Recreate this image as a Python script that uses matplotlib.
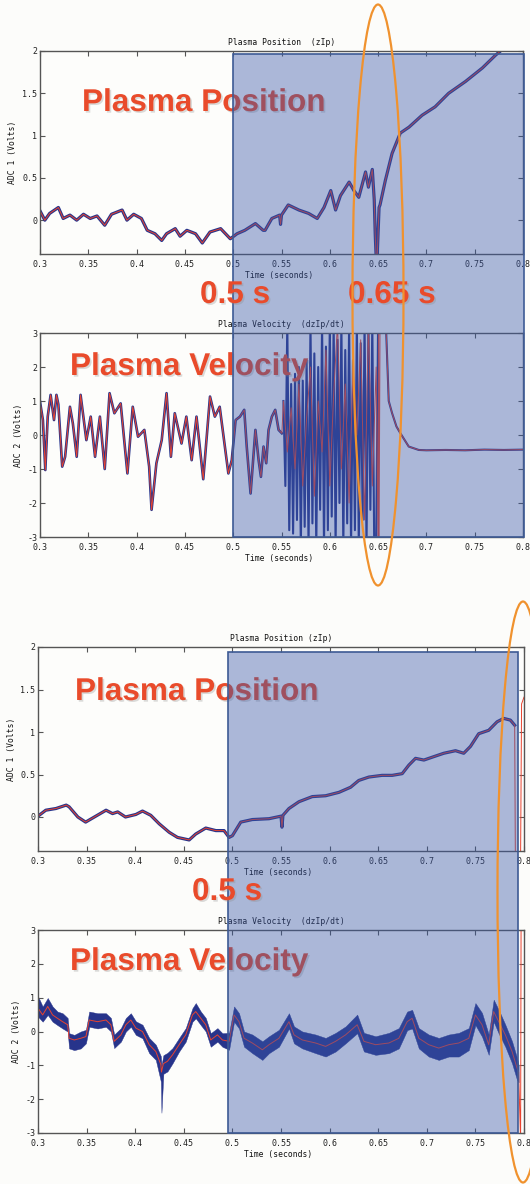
import numpy as np
import matplotlib
matplotlib.use("Agg")
import matplotlib.pyplot as plt
from matplotlib.patches import Rectangle, Ellipse
import matplotlib.patheffects as pe

# ---- shot 1 : position (zIp) ----
pos1_t = [0.300, 0.305, 0.310, 0.319, 0.324, 0.331, 0.338, 0.345, 0.352, 0.359,
          0.367, 0.374, 0.385, 0.390, 0.397, 0.405, 0.411, 0.419, 0.426, 0.431,
          0.440, 0.445, 0.452, 0.461, 0.468, 0.476, 0.487, 0.497, 0.504, 0.512,
          0.523, 0.531, 0.533, 0.540, 0.548, 0.549, 0.550, 0.557, 0.568, 0.578,
          0.587, 0.594, 0.601, 0.606, 0.611, 0.620, 0.625, 0.630, 0.637, 0.640,
          0.644, 0.646, 0.647, 0.648, 0.649, 0.651, 0.652, 0.6575, 0.6645, 0.673,
          0.682, 0.6955, 0.709, 0.723, 0.7405, 0.758, 0.7715, 0.7767, 0.779]
pos1_v = [0.11, 0.00, 0.08, 0.15, 0.02, 0.06, 0.00, 0.07, 0.02, 0.05,
          -0.06, 0.07, 0.12, 0.00, 0.07, 0.02, -0.12, -0.16, -0.24, -0.16,
          -0.10, -0.19, -0.12, -0.16, -0.27, -0.14, -0.10, -0.22, -0.16, -0.12,
          -0.04, -0.12, -0.12, 0.02, 0.06, -0.05, 0.06, 0.18, 0.12, 0.08,
          0.02, 0.15, 0.35, 0.12, 0.29, 0.45, 0.35, 0.27, 0.57, 0.39,
          0.60, 0.24, -0.16, -0.45, -0.45, 0.15, 0.18, 0.47, 0.79, 1.03,
          1.10, 1.24, 1.34, 1.50, 1.64, 1.80, 1.95, 2.00, 2.05]

# ---- shot 1 : velocity (dzIp/dt) ----
vel1_t = [0.300, 0.303, 0.3055, 0.308, 0.311, 0.3145, 0.317, 0.319, 0.323, 0.326,
          0.331, 0.334, 0.338, 0.342, 0.348, 0.3525, 0.357, 0.362, 0.367, 0.372,
          0.377, 0.3835, 0.3905, 0.396, 0.4015, 0.408, 0.413, 0.4155, 0.4205, 0.426,
          0.431, 0.4355, 0.4395, 0.4465, 0.4515, 0.457, 0.462, 0.469, 0.476, 0.481,
          0.486, 0.495, 0.4985, 0.5025, 0.507, 0.5114, 0.514, 0.518, 0.523, 0.5263,
          0.5287, 0.5314, 0.5342, 0.5366, 0.540, 0.5435, 0.547, 0.5504]
vel1_v = [0.98, 0.44, -1.03, 0.54, 1.18, 0.44, 1.18, 0.90, -0.93, -0.64,
          0.83, 0.34, -0.64, 1.18, -0.15, 0.54, -0.64, 0.54, -1.00, 1.23,
          0.64, 0.93, -1.13, 0.83, -0.05, 0.15, -0.93, -2.20, -0.83, -0.15,
          1.23, -0.64, 0.64, -0.25, 0.54, -0.74, 0.54, -1.30, 1.13, 0.54,
          0.83, -1.13, -0.74, 0.44, 0.54, 0.74, -0.34, -1.72, 0.15, -0.74,
          -1.23, -0.34, -0.83, 0.15, 0.54, 0.74, 0.15, 0.05]
burst_t = np.linspace(0.552, 0.650, 50)
burst_blue = [1.0, -1.5, 3.3, -2.8, 1.5, -2.9, 1.8, -2.5, 2.0, -3.3,
              1.6, -2.7, 2.2, -3.3, 3.3, -2.6, 2.4, -3.3, 2.0, -2.2,
              3.3, -3.3, 2.6, -2.8, 3.3, -2.4, 3.3, -3.3, 2.8, -2.0,
              3.3, -3.3, 2.5, -2.6, 3.3, -3.3, 2.2, -2.8, 3.3, -3.3,
              2.7, -2.5, 3.3, -3.3, 3.3, -2.2, 3.3, -3.3, -3.3, 3.3]
burst_red_t = np.linspace(0.552, 0.648, 25)
burst_red = [1.0, -0.5, 0.8, -1.0, 1.5, -1.5, 0.5, 2.0, -1.8, 1.0,
             -0.5, 2.5, -1.5, 1.2, 3.3, -1.0, 1.5, -2.0, 2.0, 0.0,
             2.8, -2.5, 3.3, -1.5, 2.0]
tail_t = [0.650, 0.6505, 0.651, 0.652, 0.658, 0.661, 0.6645, 0.669, 0.6731, 0.6817,
          0.6921, 0.700, 0.720, 0.740, 0.760, 0.780, 0.800]
tail_v = [-3.3, 3.3, -3.3, 3.3, 3.3, 1.0, 0.64, 0.25, 0.05, -0.34,
          -0.44, -0.45, -0.44, -0.45, -0.43, -0.44, -0.43]

# ---- shot 2 : position ----
pos2_t = [0.300, 0.308, 0.3185, 0.329, 0.332, 0.341, 0.349, 0.358, 0.370, 0.3767,
          0.382, 0.390, 0.4007, 0.4075, 0.416, 0.4247, 0.435, 0.4435, 0.4555, 0.4623,
          0.4726, 0.483, 0.4914, 0.4966, 0.500, 0.5086, 0.5205, 0.5377, 0.5500, 0.5510,
          0.5520, 0.5582, 0.5685, 0.5822, 0.5959, 0.6096, 0.6216, 0.630, 0.6404, 0.654,
          0.6644, 0.6747, 0.6815, 0.6884, 0.697, 0.7072, 0.7175, 0.7295, 0.738, 0.7449,
          0.7534, 0.7637, 0.7723, 0.7791, 0.786, 0.7904, 0.7911, 0.7965, 0.7975, 0.800]
pos2_v = [0.01, 0.08, 0.10, 0.14, 0.12, 0.00, -0.06, 0.00, 0.08, 0.04,
          0.06, 0.00, 0.03, 0.07, 0.02, -0.08, -0.18, -0.24, -0.27, -0.20,
          -0.13, -0.16, -0.16, -0.24, -0.22, -0.06, -0.03, -0.02, 0.01, -0.12,
          0.02, 0.10, 0.18, 0.24, 0.25, 0.29, 0.35, 0.43, 0.47, 0.49,
          0.49, 0.51, 0.61, 0.69, 0.67, 0.71, 0.75, 0.78, 0.75, 0.83,
          0.98, 1.02, 1.12, 1.16, 1.14, 1.08, -0.45, -0.45, 1.33, 1.41]

# ---- shot 2 : velocity (mean + noise band) ----
vel2_t = [0.300, 0.3048, 0.310, 0.315, 0.320, 0.3253, 0.3305, 0.332, 0.3373, 0.344,
          0.3493, 0.3527, 0.3613, 0.3699, 0.375, 0.3784, 0.3853, 0.3904, 0.3955, 0.4007,
          0.4075, 0.4144, 0.4212, 0.4264, 0.4270, 0.4290, 0.4332, 0.4384, 0.4452, 0.452,
          0.4589, 0.4623, 0.4675, 0.4726, 0.4777, 0.4846, 0.4897, 0.4966, 0.5017, 0.5068,
          0.512, 0.5205, 0.5308, 0.5377, 0.5479, 0.5582, 0.5634, 0.5719, 0.5856, 0.5959,
          0.6062, 0.6164, 0.6284, 0.6353, 0.6473, 0.661, 0.6712, 0.6798, 0.6849, 0.6918,
          0.702, 0.7123, 0.7226, 0.7329, 0.7432, 0.750, 0.7568, 0.7637, 0.7688, 0.774,
          0.7808, 0.7877, 0.7928, 0.7945]
vel2_v = [0.69, 0.49, 0.74, 0.49, 0.39, 0.29, 0.20, -0.20, -0.25, -0.20,
          -0.15, 0.34, 0.29, 0.34, 0.20, -0.29, -0.10, 0.20, 0.34, 0.10,
          0.00, -0.39, -0.59, -0.98, -1.20, -0.95, -0.88, -0.69, -0.39, -0.10,
          0.49, 0.59, 0.39, 0.20, -0.25, -0.10, -0.25, -0.29, 0.49, 0.29,
          -0.20, -0.34, -0.54, -0.39, -0.20, 0.29, -0.10, -0.25, -0.34, -0.44,
          -0.29, -0.10, 0.20, -0.29, -0.39, -0.34, -0.20, 0.29, 0.39, -0.20,
          -0.39, -0.49, -0.39, -0.34, -0.20, 0.49, 0.20, -0.39, 0.59, 0.29,
          -0.10, -0.59, -1.08, -1.20]
vel2_up = [0.35, 0.25, 0.25, 0.25, 0.2, 0.25, 0.2, 0.15, 0.15, 0.2,
           0.2, 0.25, 0.25, 0.2, 0.2, 0.2, 0.2, 0.2, 0.2, 0.2,
           0.2, 0.2, 0.2, 0.25, 0.2, 0.25, 0.25, 0.2, 0.2, 0.2,
           0.2, 0.25, 0.2, 0.2, 0.2, 0.2, 0.2, 0.25, 0.25, 0.25,
           0.2, 0.25, 0.25, 0.25, 0.25, 0.25, 0.25, 0.25, 0.25, 0.25,
           0.25, 0.25, 0.3, 0.25, 0.25, 0.3, 0.3, 0.3, 0.25, 0.3,
           0.3, 0.3, 0.3, 0.3, 0.3, 0.35, 0.35, 0.3, 0.35, 0.35,
           0.3, 0.3, 0.3, 0.2]
vel2_dn = [0.25, 0.2, 0.25, 0.2, 0.2, 0.2, 0.2, 0.3, 0.3, 0.3,
           0.2, 0.2, 0.2, 0.2, 0.2, 0.2, 0.2, 0.2, 0.2, 0.2,
           0.2, 0.25, 0.25, 0.5, 1.2, 0.3, 0.3, 0.25, 0.2, 0.2,
           0.2, 0.2, 0.2, 0.2, 0.2, 0.2, 0.2, 0.25, 0.2, 0.2,
           0.25, 0.3, 0.3, 0.25, 0.25, 0.2, 0.25, 0.25, 0.3, 0.3,
           0.3, 0.25, 0.25, 0.3, 0.3, 0.3, 0.3, 0.25, 0.3, 0.3,
           0.35, 0.35, 0.35, 0.4, 0.35, 0.3, 0.35, 0.3, 0.3, 0.35,
           0.35, 0.35, 0.35, 0.3]
vel2_end_t = [0.7965, 0.797, 0.800]
vel2_end_v = [-3.3, 3.3, 3.3]

xticks = [0.3, 0.35, 0.4, 0.45, 0.5, 0.55, 0.6, 0.65, 0.7, 0.75, 0.8]
xtick_labels = ["0.3", "0.35", "0.4", "0.45", "0.5", "0.55", "0.6", "0.65", "0.7", "0.75", "0.8"]
pos_ticks = [0, 0.5, 1, 1.5, 2]
pos_labels = ["0", "0.5", "1", "1.5", "2"]
vel_ticks = [-3, -2, -1, 0, 1, 2, 3]
vel_labels = ["-3", "-2", "-1", "0", "1", "2", "3"]
window1 = (0.5, 0.801)     # shaded window, shot 1
window2 = (0.495, 0.7938)  # shaded window, shot 2

BLUE = "#27348b"
RED = "#e8432f"
LABEL = "#e94b2b"
W, H = 530, 1184
MONO = "DejaVu Sans Mono"

fig = plt.figure(figsize=(W / 100, H / 100), dpi=100)
fig.patch.set_facecolor("#fcfcfa")


def make_ax(l, t, r, b, ylim, yt, ytl, title, ylabel, ylab_x):
    ax = fig.add_axes([l / W, 1 - b / H, (r - l) / W, (b - t) / H])
    ax.set_facecolor("#fdfdfb")
    ax.set_xlim(0.3, 0.8)
    ax.set_ylim(*ylim)
    ax.set_xticks(xticks)
    ax.set_xticklabels(xtick_labels, family=MONO, fontsize=6)
    ax.set_yticks(yt)
    ax.set_yticklabels(ytl, family=MONO, fontsize=6)
    ax.tick_params(direction="in", length=3.5, width=0.8, color="#555555",
                   top=True, right=True, labelcolor="#222222")
    ax.tick_params(axis="x", pad=4)
    ax.tick_params(axis="y", pad=2)
    for s in ax.spines.values():
        s.set_color("#555555")
        s.set_linewidth(1.0)
    ax.set_title(title, family=MONO, fontsize=5.8, pad=4, color="#111111")
    ax.set_xlabel("Time (seconds)", family=MONO, fontsize=5.8, color="#111111")
    ax.xaxis.set_label_coords(0.495, -17 / (b - t))
    ax.set_ylabel(ylabel, family=MONO, fontsize=5.8, color="#111111", va="center")
    ax.yaxis.set_label_coords((ylab_x - l) / (r - l), 0.5)
    return ax


ax1 = make_ax(40, 51, 523, 254, (-0.4, 2), pos_ticks, pos_labels,
              "Plasma Position  (zIp)", "ADC 1 (Volts)", 13)
ax2 = make_ax(40, 333, 523, 537, (-3, 3), vel_ticks, vel_labels,
              "Plasma Velocity  (dzIp/dt)", "ADC 2 (Volts)", 19)
ax3 = make_ax(38, 647, 524, 851, (-0.4, 2), pos_ticks, pos_labels,
              "Plasma Position (zIp)", "ADC 1 (Volts)", 12)
ax4 = make_ax(38, 930, 524, 1133, (-3, 3), vel_ticks, vel_labels,
              "Plasma Velocity  (dzIp/dt)", "ADC 2 (Volts)", 17)

ax1.plot(pos1_t, pos1_v, color=BLUE, lw=2.3)
ax1.plot(pos1_t, pos1_v, color=RED, lw=0.7)

ax2.plot(vel1_t, vel1_v, color=BLUE, lw=1.9)
ax2.plot(list(burst_t) + tail_t[4:], burst_blue + tail_v[4:], color=BLUE, lw=1.5)
ax2.plot(vel1_t + list(burst_red_t) + tail_t, vel1_v + burst_red + tail_v, color=RED, lw=0.7)

ax3.plot(pos2_t[:56], pos2_v[:56], color=BLUE, lw=2.3)
ax3.plot(pos2_t, pos2_v, color=RED, lw=0.7)

lo = np.array(vel2_v) - np.array(vel2_dn)
hi = np.array(vel2_v) + np.array(vel2_up)
ax4.fill_between(vel2_t, lo, hi, color=BLUE, lw=0.3, edgecolor=BLUE)
ax4.plot(vel2_t + vel2_end_t, vel2_v + vel2_end_v, color=RED, lw=0.7)


def fx(ax, t):
    return fig.transFigure.inverted().transform(ax.transData.transform((t, 0)))[0]


def fy(px):
    return 1 - px / H


# shaded windows
for ax, win, top, bot in [(ax1, window1, 54, 537), (ax3, window2, 652, 1133)]:
    x0, x1 = fx(ax, win[0]), fx(ax, win[1])
    fig.add_artist(Rectangle((x0, fy(bot)), x1 - x0, fy(top) - fy(bot),
                             transform=fig.transFigure, facecolor="#3a58a8",
                             alpha=0.42, lw=0, zorder=4))
    fig.add_artist(Rectangle((x0, fy(bot)), x1 - x0, fy(top) - fy(bot),
                             transform=fig.transFigure, fill=False,
                             edgecolor="#3d5a94", lw=1.2, zorder=5))

shadow = [pe.SimplePatchShadow(offset=(1.2, -1.2), shadow_rgbFace="#8a8a8a", alpha=0.3),
          pe.Normal()]


def big(x, y, s, z):
    fig.text(x / W, fy(y), s, family="Liberation Sans", weight="bold", fontsize=22.7,
             color=LABEL, ha="left", va="baseline", zorder=z, path_effects=shadow)


big(82, 111, "Plasma Position", 2)
big(70, 375, "Plasma Velocity", 2)
big(75, 700, "Plasma Position", 2)
big(70, 970, "Plasma Velocity", 2)
big(200, 303, "0.5 s", 6)
big(348, 303, "0.65 s", 6)
big(192, 900, "0.5 s", 6)

# orange ellipses
for cx, cy in [(378, 295), (523, 892)]:
    fig.add_artist(Ellipse((cx / W, fy(cy)), 51 / W, 581 / H, transform=fig.transFigure,
                           fill=False, edgecolor="#f0922e", lw=1.6, zorder=7))

fig.savefig("out.png", dpi=100, facecolor=fig.get_facecolor())
